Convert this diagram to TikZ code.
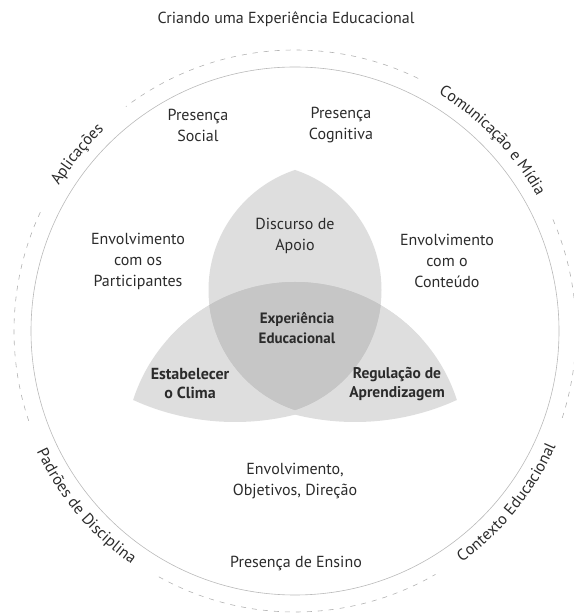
\documentclass[tikz,border=0pt]{standalone}
\usepackage{fontspec}
\setmainfont{PT Sans}
\usetikzlibrary{positioning, decorations.text}
\definecolor{Ink}{HTML}{2B2B2B}
\definecolor{PetalLight}{HTML}{DEDEDE}
\definecolor{PetalDark}{HTML}{C6C6C6}
\newcommand\arcfont{\fontsize{16}{18}\selectfont\color{Ink}}

\begin{document}
\begin{tikzpicture}[x=1pt, y=1pt]
  \tikzstyle{lbl} = [text=Ink, align=center, font=\fontsize{16}{21}\selectfont]
  \tikzstyle{petal} = [lbl, font=\bfseries\fontsize{16}{19}\selectfont]
  \tikzstyle{rim} = [draw=gray!60, line width=0.6pt, dash pattern=on 5pt off 6pt]
  \tikzstyle{arclbl} = [decorate, decoration={text along path, text align=center, raise=-4pt}]

  \useasboundingbox (0,0) rectangle (573,613);
  \coordinate (O) at (295,282);

  % petals: top lens, and the two lower ones cut from one big circle
  \begin{scope}
    \clip (255,323) circle (126.5);
    \fill[PetalLight] (335,323) circle (126.5);
  \end{scope}
  \begin{scope}
    \clip (295,161) circle (170);
    \fill[PetalLight] (235,437) circle (246);
    \fill[PetalLight] (355,437) circle (246);
  \end{scope}
  % overlap in the middle
  \begin{scope}
    \clip (255,323) circle (126.5);
    \clip (335,323) circle (126.5);
    \clip (295,161) circle (170);
    \fill[PetalDark] (235,437) circle (246);
    \fill[PetalDark] (355,437) circle (246);
  \end{scope}

  % rings
  \draw[gray!55, line width=0.6pt] (O) circle (264);
  \foreach \a/\b in {64/127, 155/199, 241/300, 342/384}
    \draw[rim] ([shift={(\a:281)}]O) arc[start angle=\a, end angle=\b, radius=281];

  % ring labels
  \path[arclbl, decoration={text={|\arcfont|Aplicações}}]
    ([shift={(166:281)}]O) arc[start angle=166, end angle=116, radius=281];
  \path[arclbl, decoration={text={|\arcfont|Comunicação e Mídia}}]
    ([shift={(74:281)}]O) arc[start angle=74, end angle=14, radius=281];
  \path[arclbl, decoration={text={|\arcfont|Padrões de Disciplina}}]
    ([shift={(190:281)}]O) arc[start angle=190, end angle=250, radius=281];
  \path[arclbl, decoration={text={|\arcfont|Contexto Educacional}}]
    ([shift={(291:281)}]O) arc[start angle=291, end angle=351, radius=281];

  \node[lbl] (title) at (286,594) {Criando uma Experiência Educacional};

  \node[lbl] (social) at (198,488) {Presença\\Social};
  \node[lbl] (cognitiva) at (341,488) {Presença\\Cognitiva};
  \node[lbl] (participantes) at (138,352) {Envolvimento\\com os\\Participantes};
  \node[lbl] (conteudo) at (447,352) {Envolvimento\\com o\\Conteúdo};
  \node[lbl] (apoio) at (295,377) {Discurso de\\Apoio};
  \node[petal, font=\bfseries\fontsize{15}{20}\selectfont] (experiencia) at (297,285) {Experiência\\Educacional};
  \node[petal] (clima) at (190,229) {Estabelecer\\o Clima};
  \node[petal, font=\bfseries\fontsize{15.5}{19}\selectfont] (regulacao) at (397,229) {Regulação de\\Aprendizagem};
  \node[lbl] (direcao) at (295,132) {Envolvimento,\\Objetivos, Direção};
  \node[lbl] (ensino) at (296,49) {Presença de Ensino};
\end{tikzpicture}
\end{document}
